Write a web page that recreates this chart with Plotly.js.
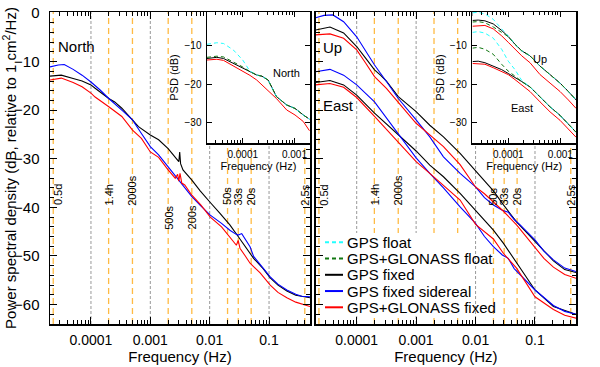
<!DOCTYPE html>
<html><head><meta charset="utf-8">
<script src="https://cdn.plot.ly/plotly-3.0.1.min.js"></script>
<style>html,body{margin:0;padding:0;background:#fff}</style>
</head><body><div id="chart" style="width:600px;height:367px"></div>
<script>
// ---------- DATA (log10 frequency in Hz, PSD in dB) ----------
// Main panel, North
const nSidLogF = [-4.69,-4.55,-4.45,-4.3,-4.15,-4.0,-3.85,-3.7,-3.48,-3.3,-3.15,-3.0,-2.86,-2.7,-2.54,-2.43,-2.3,-2.15,-1.99,-1.8,-1.66,-1.56,-1.52,-1.46,-1.4,-1.32,-1.26,-1.1,-0.98,-0.85,-0.7,-0.55,-0.45,-0.31];
const nSidDb   = [-11.1,-10.7,-10.6,-11.6,-12.8,-14.2,-15.8,-17.6,-20.0,-22.0,-24.8,-27.5,-29.2,-31.6,-34.0,-35.7,-37.8,-39.7,-41.6,-43.3,-44.7,-45.5,-45.7,-45.4,-46.6,-48.1,-50.1,-52.4,-54.3,-55.8,-57.0,-57.9,-58.3,-58.4];
const nGpsLogF = [-4.69,-4.5,-4.3,-4.15,-4.0,-3.93,-3.7,-3.6,-3.48,-3.3,-3.2,-3.0,-2.86,-2.7,-2.58,-2.52,-2.505,-2.49,-2.45,-2.3,-2.16,-2.08,-1.99,-1.83,-1.66,-1.52,-1.42,-1.32,-1.26,-1.1,-0.98,-0.85,-0.7,-0.55,-0.31];
const nGpsDb   = [-13.0,-12.8,-13.5,-14.0,-14.8,-15.5,-17.6,-18.3,-19.6,-22.0,-23.4,-25.1,-26.1,-27.9,-29.6,-30.6,-28.6,-31.0,-32.3,-34.4,-36.6,-37.8,-39.0,-41.2,-43.6,-46.0,-47.8,-49.5,-50.5,-52.6,-54.5,-56.0,-57.2,-58.1,-58.6];
const nGlnLogF = [-4.69,-4.5,-4.3,-4.15,-4.0,-3.93,-3.7,-3.48,-3.3,-3.15,-3.0,-2.86,-2.7,-2.58,-2.54,-2.52,-2.5,-2.47,-2.42,-2.3,-2.15,-1.99,-1.8,-1.66,-1.55,-1.52,-1.49,-1.4,-1.32,-1.15,-0.98,-0.85,-0.7,-0.55,-0.31];
const nGlnDb   = [-13.8,-13.4,-14.3,-15.2,-16.5,-17.3,-19.3,-21.3,-24.1,-25.8,-28.6,-29.7,-32.3,-34.0,-33.2,-34.6,-33.0,-35.0,-35.4,-37.5,-39.5,-42.0,-44.0,-46.0,-47.8,-46.8,-48.4,-50.0,-51.5,-53.5,-56.0,-57.5,-58.6,-59.5,-60.4];
// Main panel, Up
const uSidLogF = [-4.69,-4.55,-4.4,-4.22,-4.0,-3.85,-3.7,-3.5,-3.3,-3.0,-2.77,-2.54,-2.26,-2.0,-1.85,-1.7,-1.55,-1.45,-1.35,-1.25,-1.0,-0.85,-0.69,-0.5,-0.31];
const uSidDb   = [-1.0,-0.5,-0.4,-1.8,-4.9,-7.8,-10.7,-14.1,-17.6,-22.0,-25.5,-29.6,-33.0,-35.8,-38.0,-39.5,-40.6,-41.0,-42.5,-43.6,-46.7,-49.0,-50.8,-52.5,-53.2];
const uGpsLogF = [-4.69,-4.45,-4.22,-4.0,-3.85,-3.7,-3.6,-3.5,-3.3,-3.0,-2.77,-2.54,-2.26,-2.0,-1.85,-1.7,-1.53,-1.4,-1.31,-1.0,-0.69,-0.5,-0.31];
const uGpsDb   = [-3.5,-2.9,-4.1,-6.9,-9.3,-11.7,-12.8,-14.0,-17.2,-20.3,-23.1,-25.5,-28.9,-32.5,-34.5,-36.6,-39.5,-41.5,-43.0,-47.0,-51.0,-52.8,-53.4];
const uGlnLogF = [-4.69,-4.45,-4.22,-4.0,-3.85,-3.7,-3.5,-3.3,-3.0,-2.77,-2.54,-2.26,-2.0,-1.85,-1.7,-1.53,-1.31,-1.0,-0.85,-0.69,-0.5,-0.31];
const uGlnDb   = [-4.5,-4.3,-5.2,-7.6,-10.3,-13.1,-15.5,-18.3,-22.7,-25.1,-27.5,-31.2,-35.8,-37.2,-38.8,-40.8,-43.6,-48.3,-50.5,-52.3,-53.8,-54.6];
// Main panel, East
const eSidLogF = [-4.69,-4.45,-4.22,-4.0,-3.7,-3.3,-3.0,-2.77,-2.54,-2.26,-2.1,-2.0,-1.85,-1.7,-1.55,-1.45,-1.35,-1.0,-0.69,-0.5,-0.31];
const eSidDb   = [-12.1,-11.6,-12.8,-14.8,-18.3,-24.8,-29.8,-33.0,-36.0,-39.9,-42.0,-43.3,-46.0,-48.1,-49.8,-50.5,-52.6,-57.0,-60.2,-61.4,-62.0];
const eGpsLogF = [-4.69,-4.45,-4.22,-4.0,-3.7,-3.3,-3.0,-2.77,-2.54,-2.26,-2.0,-1.7,-1.53,-1.31,-1.0,-0.69,-0.31];
const eGpsDb   = [-14.3,-13.9,-14.8,-16.9,-20.6,-25.1,-28.4,-31.3,-33.7,-37.1,-40.6,-44.7,-47.4,-51.5,-57.0,-60.4,-62.0];
const eGlnLogF = [-4.69,-4.45,-4.22,-4.0,-3.7,-3.3,-3.0,-2.77,-2.54,-2.26,-2.0,-1.7,-1.53,-1.31,-1.0,-0.69,-0.5,-0.31];
const eGlnDb   = [-14.8,-14.5,-15.3,-17.4,-21.3,-26.5,-30.6,-33.0,-35.4,-38.5,-43.5,-46.5,-49.5,-52.5,-58.4,-61.0,-62.2,-62.8];
// Inset, North
const inNLogF     = [-4.69,-4.5,-4.37,-4.18,-4.0,-3.86,-3.73,-3.63,-3.51,-3.43,-3.35,-3.15,-2.99,-2.83,-2.71];
const inNFloatDb  = [-9.6,-9.2,-9.4,-11.1,-13.7,-16.6,-17.6,-17.9,-18.9,-21.0,-23.2,-25.4,-26.3,-28.0,-29.1];
const inNGlFlDb   = [-13.0,-12.7,-12.9,-14.2,-15.5,-16.7,-17.6,-17.9,-18.9,-21.0,-23.2,-25.4,-26.3,-28.0,-29.1];
const inNFixedDb  = [-13.3,-13.0,-13.3,-14.6,-15.9,-16.8,-17.6,-17.9,-18.9,-21.0,-23.2,-25.4,-26.3,-28.0,-29.1];
const inNGlFxDb   = [-13.7,-13.5,-13.8,-15.2,-16.5,-17.7,-18.9,-20.2,-21.5,-22.6,-23.7,-26.7,-28.0,-29.7,-32.1];
// Inset, Up and East
const inULogF     = [-4.685,-4.577,-4.448,-4.288,-4.127,-4.0,-3.871,-3.742,-3.583,-3.39,-3.198,-3.006,-2.846,-2.698];
const inUFloatDb  = [-1.4,-1.3,-1.7,-3.1,-5.6,-7.4,-9.6,-11.3,-12.6,-15.3,-17.5,-19.7,-21.9,-24.1];
const inUGlFlDb   = [-3.8,-3.7,-4.0,-5.1,-6.5,-7.6,-9.6,-11.3,-12.6,-15.3,-17.5,-19.7,-21.9,-24.1];
const inUFixedDb  = [-3.4,-3.3,-3.5,-4.3,-6.0,-7.6,-9.6,-11.3,-12.6,-15.3,-17.5,-19.7,-21.9,-24.1];
const inUGlFxDb   = [-4.9,-4.8,-4.7,-5.6,-7.4,-9.1,-10.9,-12.6,-14.4,-17.5,-19.7,-21.9,-24.1,-26.3];
const inEFloatDb  = [-6.5,-6.3,-6.7,-8.0,-10.9,-14.0,-16.2,-19.0,-20.7,-23.2,-25.9,-28.1,-30.3,-32.5];
const inEGlFlDb   = [-10.6,-10.4,-10.9,-12.2,-14.8,-16.6,-17.9,-19.3,-20.7,-23.2,-25.9,-28.1,-30.3,-32.5];
const inEFixedDb  = [-14.1,-14.0,-14.4,-15.3,-16.2,-17.2,-18.2,-19.3,-20.7,-23.2,-25.9,-28.1,-30.3,-32.5];
const inEGlFxDb   = [-14.6,-14.7,-14.8,-15.7,-16.6,-17.5,-18.8,-20.1,-21.9,-24.6,-27.2,-29.4,-31.6,-33.8];
// Reference frequencies
const decadeFreqs = [1e-4, 1e-3, 1e-2, 1e-1];
const decadeLabels = ['0.0001','0.001','0.01','0.1'];
const periodFreqs = [1/43200, 1/5040, 1/2000, 1/500, 1/200, 1/50, 1/33, 1/20, 1/2.5];
const periodLabels = ['0.5d','1.4h','2000s','500s','200s','50s','33s','20s','2.5s'];
const seriesNames = ['GPS float','GPS+GLONASS float','GPS fixed','GPS fixed sidereal','GPS+GLONASS fixed'];

// ---------- STYLE ----------
const FONT = 'Liberation Sans, Arial, Helvetica, sans-serif';
const C = {float:'#22ffff', glfl:'#117711', fixed:'#000000', sid:'#0000ff', glfx:'#ff0000'};
const DASH = {float:'4px,3px', glfl:'4px,3px', fixed:'solid', sid:'solid', glfx:'solid'};
const YR = [-64, 0.2];
const toHz = a => a.map(v => Math.pow(10, v));

function curve(xa, ya, logf, db, key, w) {
  return {type:'scatter', mode:'lines', x: toHz(logf), y: db, xaxis: xa, yaxis: ya,
    line:{color:C[key], width:w, dash:DASH[key]}, showlegend:false, hoverinfo:'skip'};
}
function vlines(xa, ya, freqs, color, dash, w) {
  const x = [], y = [];
  freqs.forEach(f => { x.push(f, f, null); y.push(YR[0], YR[1], null); });
  return {type:'scatter', mode:'lines', x, y, xaxis: xa, yaxis: ya,
    line:{color, width:w, dash}, showlegend:false, hoverinfo:'skip', connectgaps:false};
}

const traces = [];
[['x','y'],['x2','y2']].forEach(([xa,ya]) => {
  traces.push(vlines(xa, ya, decadeFreqs, '#999999', '3px,2px', 1));
  traces.push(vlines(xa, ya, periodFreqs, '#ffbb44', '6px,4px', 1.3));
});
traces.push(curve('x','y', nGpsLogF, nGpsDb, 'fixed', 1.1));
traces.push(curve('x','y', nSidLogF, nSidDb, 'sid', 1.1));
traces.push(curve('x','y', nGlnLogF, nGlnDb, 'glfx', 1.1));
traces.push(curve('x2','y2', uGpsLogF, uGpsDb, 'fixed', 1.1));
traces.push(curve('x2','y2', eGpsLogF, eGpsDb, 'fixed', 1.1));
traces.push(curve('x2','y2', uSidLogF, uSidDb, 'sid', 1.1));
traces.push(curve('x2','y2', eSidLogF, eSidDb, 'sid', 1.1));
traces.push(curve('x2','y2', uGlnLogF, uGlnDb, 'glfx', 1.1));
traces.push(curve('x2','y2', eGlnLogF, eGlnDb, 'glfx', 1.1));
// insets
traces.push(curve('x3','y3', inNLogF, inNFixedDb, 'fixed', 1));
traces.push(curve('x3','y3', inNLogF, inNGlFxDb, 'glfx', 1));
traces.push(curve('x3','y3', inNLogF, inNFloatDb, 'float', 1));
traces.push(curve('x3','y3', inNLogF, inNGlFlDb, 'glfl', 1));
traces.push(curve('x4','y4', inULogF, inUFixedDb, 'fixed', 1));
traces.push(curve('x4','y4', inULogF, inEFixedDb, 'fixed', 1));
traces.push(curve('x4','y4', inULogF, inUGlFxDb, 'glfx', 1));
traces.push(curve('x4','y4', inULogF, inEGlFxDb, 'glfx', 1));
traces.push(curve('x4','y4', inULogF, inUFloatDb, 'float', 1));
traces.push(curve('x4','y4', inULogF, inEFloatDb, 'float', 1));
traces.push(curve('x4','y4', inULogF, inUGlFlDb, 'glfl', 1));
traces.push(curve('x4','y4', inULogF, inEGlFlDb, 'glfl', 1));

// ---------- AXES ----------
const minorLog = [];
for (let e = -5; e <= 0; e++) for (let m = 2; m <= 9; m++) minorLog.push(m * Math.pow(10, e));

function xMain(domain, anchor) {
  return {type:'log', domain, anchor, range:[-4.69,-0.31], tickmode:'array', tickvals:decadeFreqs, ticktext:decadeLabels,
    ticks:'inside', ticklen:7, tickwidth:1, tickcolor:'#000', showline:true, linecolor:'#000', linewidth:1.5, mirror:'ticks',
    showgrid:false, zeroline:false, tickfont:{size:14, color:'#000'}, ticklabelstandoff:3,
    minor:{tickmode:'array', tickvals:minorLog, ticks:'inside', ticklen:4, tickcolor:'#000', showgrid:false},
    title:{text:'Frequency (Hz)', font:{size:15, color:'#000'}, standoff:4}};
}
function yMain(anchor, labels) {
  const ax = {domain:[0,1], anchor, range:YR, tickmode:'linear', tick0:0, dtick:10,
    ticks:'inside', ticklen:7, tickwidth:1, tickcolor:'#000', showline:true, linecolor:'#000', linewidth:1.5, mirror:'ticks',
    showgrid:false, zeroline:false, showticklabels:labels, tickfont:{size:15, color:'#000'}, ticklabelstandoff:6,
    minor:{dtick:2, ticks:'inside', ticklen:4, tickcolor:'#000', showgrid:false}};
  if (labels) ax.title = {text:'Power spectral density (dB, relative to 1 cm<sup>2</sup>/Hz)', font:{size:15, color:'#000'}, standoff:4};
  return ax;
}
function xIn(domain, anchor) {
  return {type:'log', domain, anchor, range:[-4.69,-2.70], tickmode:'array', tickvals:[1e-4,1e-3], ticktext:['0.0001','0.001'],
    ticks:'inside', ticklen:5, tickcolor:'#000', showline:true, linecolor:'#000', linewidth:1.5, mirror:'ticks',
    showgrid:false, zeroline:false, tickfont:{size:10, color:'#000'}, ticklabelstandoff:1,
    minor:{tickmode:'array', tickvals:minorLog, ticks:'inside', ticklen:3, tickcolor:'#000', showgrid:false},
    title:{text:'Frequency (Hz)', font:{size:11, color:'#000'}, standoff:2}};
}
function yIn(domain, anchor) {
  return {domain, anchor, range:[-35.3,-1.2], tickmode:'array', tickvals:[-10,-20,-30],
    ticks:'inside', ticklen:5, tickcolor:'#000', showline:true, linecolor:'#000', linewidth:1.5, mirror:'ticks',
    showgrid:false, zeroline:false, tickfont:{size:10, color:'#000'}, ticklabelstandoff:2,
    title:{text:'PSD (dB)', font:{size:11, color:'#000'}, standoff:3}};
}

// ---------- ANNOTATIONS ----------
const ann = [];
const lowLabels = ['500s','200s'];
periodFreqs.forEach((f, i) => {
  const lbl = periodLabels[i];
  const low = lowLabels.includes(lbl);
  [['x','y'],['x2','y2']].forEach(([xa,ya], p) => {
    if (p === 1 && low) return;
    ann.push({xref:xa, yref:ya, x:Math.log10(f), y: low ? -45 : -40, text:lbl, textangle:-90,
      xanchor:'center', yanchor:'bottom', xshift: i === 0 ? 5 : 0, showarrow:false, font:{size:11, color:'#000', family:FONT}});
  });
});
ann.push({xref:'x domain', yref:'y domain', x:0.023, y:0.889, text:'North', xanchor:'left', yanchor:'middle', showarrow:false, font:{size:15, color:'#000'}});
ann.push({xref:'x2 domain', yref:'y2 domain', x:0.02, y:0.886, text:'Up', xanchor:'left', yanchor:'middle', showarrow:false, font:{size:15, color:'#000'}});
ann.push({xref:'x2 domain', yref:'y2 domain', x:0.02, y:0.699, text:'East', xanchor:'left', yanchor:'middle', showarrow:false, font:{size:15, color:'#000'}});
ann.push({xref:'x3', yref:'y3', x:-3.148, y:-17.1, text:'North', showarrow:false, font:{size:11, color:'#000'}});
ann.push({xref:'x4', yref:'y4', x:-3.39, y:-13.5, text:'Up', showarrow:false, font:{size:11, color:'#000'}});
ann.push({xref:'x4', yref:'y4', x:-3.727, y:-26.1, text:'East', showarrow:false, font:{size:11, color:'#000'}});

// manual legend (plot-area fractions: width 526px, height 312px)
const PX = px => (px - 50) / 526, PY = py => (324 - py) / 312;
const shapes = [{type:'rect', xref:'paper', yref:'paper', x0:PX(323), x1:PX(470), y0:PY(316), y1:PY(233),
  fillcolor:'#fff', line:{width:0}, layer:'above'}];
const legKeys = ['float','glfl','fixed','sid','glfx'];
seriesNames.forEach((nm, i) => {
  const py = 242.3 + i * 16.25;
  shapes.push({type:'line', xref:'paper', yref:'paper', x0:PX(325), x1:PX(343), y0:PY(py), y1:PY(py),
    line:{color:C[legKeys[i]], width:2, dash: legKeys[i] === 'float' || legKeys[i] === 'glfl' ? '4px,3px' : 'solid'}, layer:'above'});
  ann.push({xref:'paper', yref:'paper', x:PX(345), y:PY(py), text:nm, xanchor:'left', yanchor:'middle', showarrow:false, font:{size:15, color:'#000'}});
});

const layout = {
  width:600, height:367, margin:{l:50, r:24, t:12, b:43},
  paper_bgcolor:'#fff', plot_bgcolor:'#fff', showlegend:false,
  font:{family:FONT, color:'#000'},
  xaxis: xMain([0, 0.4943], 'y'),
  yaxis: yMain('x', true),
  xaxis2: xMain([0.5051, 1], 'y2'),
  yaxis2: yMain('x2', false),
  xaxis3: xIn([0.2985, 0.4943], 'y3'),
  yaxis3: yIn([0.5801, 1], 'x3'),
  xaxis4: xIn([0.8029, 1], 'y4'),
  yaxis4: yIn([0.5801, 1], 'x4'),
  annotations: ann, shapes
};
Plotly.newPlot('chart', traces, layout, {staticPlot:true, displayModeBar:false});
</script></body></html>
